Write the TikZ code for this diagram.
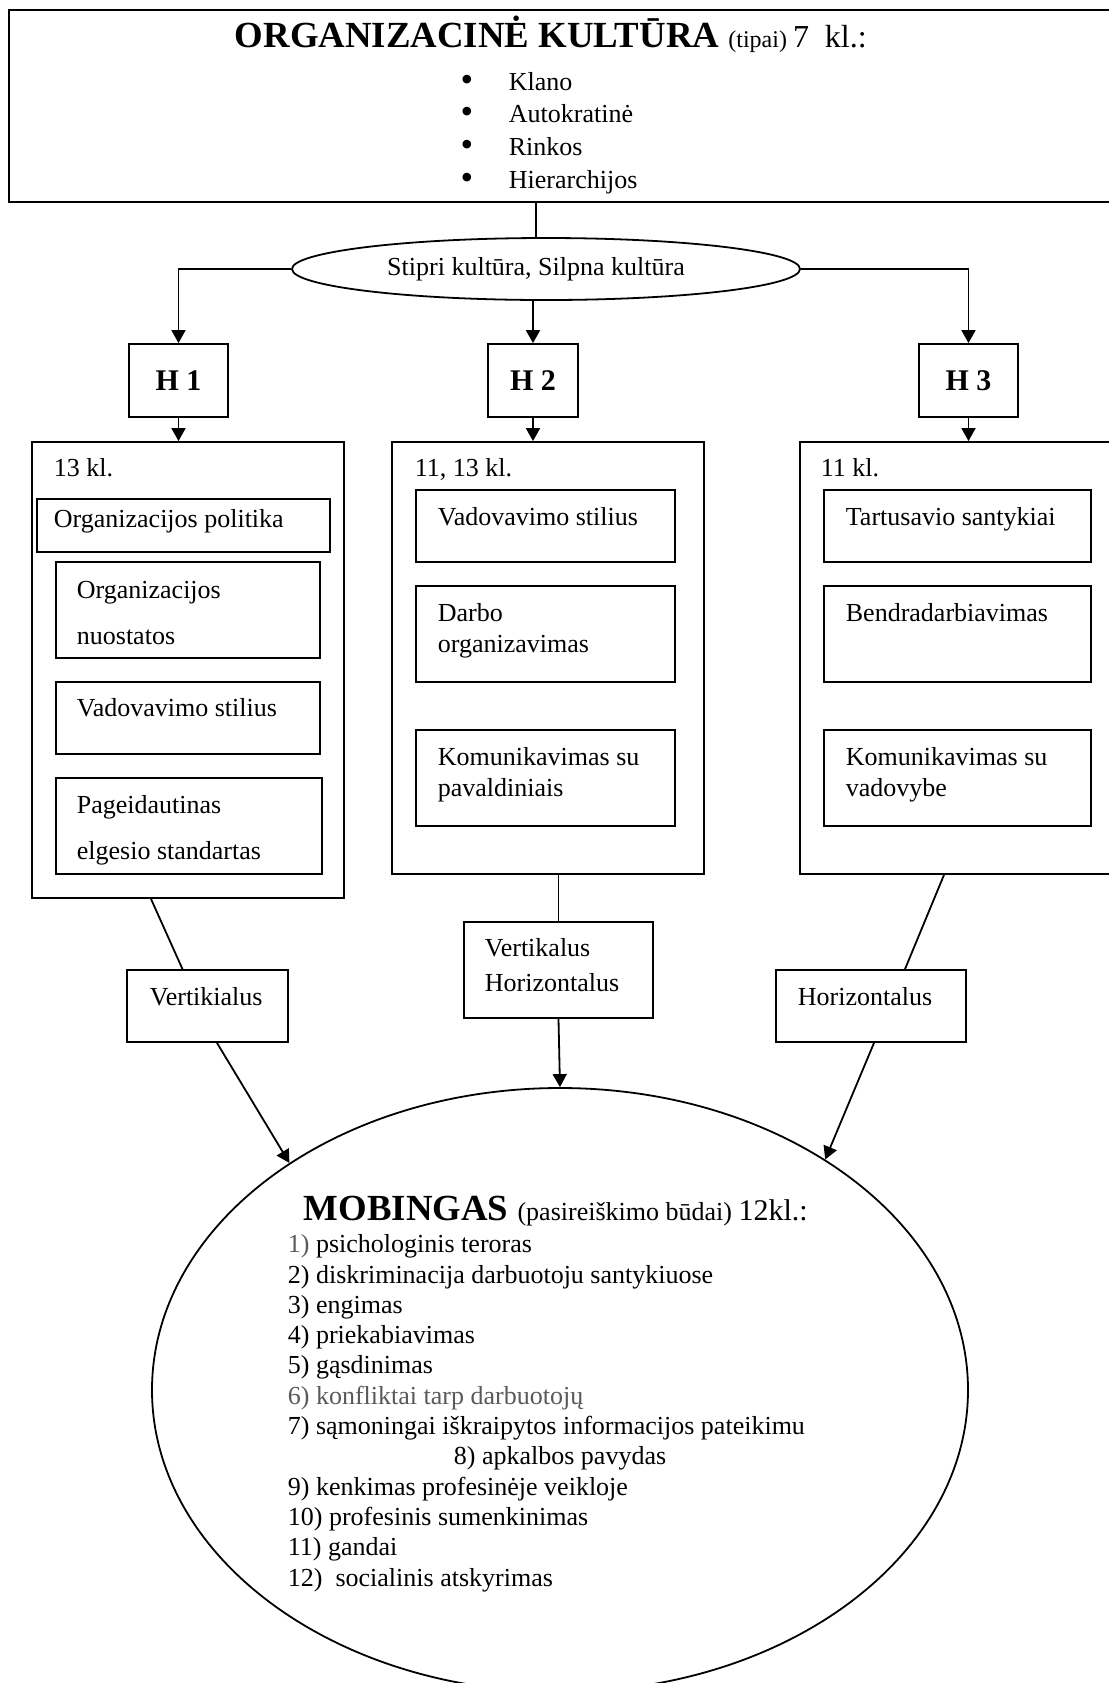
\documentclass[tikz,border=0pt]{standalone}
\usepackage{fontspec}
\setmainfont{Liberation Serif}
\usetikzlibrary{shapes.geometric,arrows.meta}

\begin{document}
\begin{tikzpicture}
	[x=1pt, y=-1pt, line width=0.9pt, >={Triangle[length=6.5pt,width=7pt]},
	box/.style={draw,rectangle,inner sep=0pt},
	oval/.style={draw,ellipse,inner sep=0pt},
	txt/.style={inner sep=0pt,anchor=base west,align=left,font=\fontsize{13pt}{15.5pt}\selectfont},
	wide/.style={txt,font=\fontsize{13pt}{23pt}\selectfont},
	hbox/.style={box,minimum height=36.5pt,font=\bfseries\fontsize{15pt}{18pt}\selectfont}]
	\useasboundingbox (0,0) rectangle (554.5,841.5);
	% top block
	\node [box,minimum width=555.5pt,minimum height=96pt] (top) at (282.25,53) {};
	\node [inner sep=0pt,anchor=base west] (title) at (117,23.5)
		{\fontsize{18.4pt}{22pt}\selectfont\bfseries ORGANIZACINĖ KULTŪRA
		\fontsize{12pt}{14pt}\selectfont\mdseries (tipai) \fontsize{16pt}{18pt}\selectfont 7\ \ kl.:};
	\node [txt,anchor=base,font=\fontsize{18pt}{16.3pt}\selectfont] (dots) at (233.5,94.5) {•\\•\\•\\•};
	\node [txt,font=\fontsize{13pt}{16.3pt}\selectfont] (types) at (254,94) {Klano\\Autokratinė\\Rinkos\\Hierarchijos};
	\node [oval,minimum width=254pt,minimum height=31pt,font=\fontsize{13pt}{15.5pt}\selectfont] (ell) at (273,134.5) {Stipri kultūra, Silpna kultūra\hspace*{10pt}};
	\coordinate (stem) at ([xshift=-5pt]ell.north);
	% hypotheses
	\node [hbox,minimum width=49.5pt] (h1) at (89.25,190.25) {H 1};
	\node [hbox,minimum width=45pt] (h2) at (266.5,190.25) {H 2};
	\node [hbox,minimum width=49.5pt] (h3) at (484.25,190.25) {H 3};
	% groups
	\node [box,minimum width=156pt,minimum height=228pt] (g1) at (94,335) {};
	\node [box,minimum width=156pt,minimum height=216pt] (g2) at (274,329) {};
	\node [box,minimum width=156pt,minimum height=216pt] (g3) at (478,329) {};
	\node [txt] (k1) at (26.5,238) {13 kl.};
	\node [txt] (k2) at (207,238) {11, 13 kl.};
	\node [txt] (k3) at (410,238) {11 kl.};
	% group 1
	\node [box,minimum width=146.5pt,minimum height=26.5pt] (pol) at (91.75,262.75) {};
	\node [box,minimum width=132pt,minimum height=48pt] (nuo) at (94,305) {};
	\node [box,minimum width=132pt,minimum height=36pt] (vad1) at (94,359) {};
	\node [box,minimum width=133pt,minimum height=48pt] (pag) at (94.5,413) {};
	\node [txt] (polt) at (26.5,263.5) {Organizacijos politika};
	\node [wide] (nuot) at (38,322) {Organizacijos\\nuostatos};
	\node [txt] (vad1t) at (38,358) {Vadovavimo stilius};
	\node [wide] (pagt) at (38,429.5) {Pageidautinas\\elgesio standartas};
	% group 2
	\node [box,minimum width=129.5pt,minimum height=36pt] (vad2) at (272.75,263) {};
	\node [box,minimum width=129.5pt,minimum height=48pt] (darb) at (272.75,317) {};
	\node [box,minimum width=129.5pt,minimum height=48pt] (kom2) at (272.75,389) {};
	\node [txt] (vad2t) at (218.5,262.5) {Vadovavimo stilius};
	\node [txt] (darbt) at (218.5,326) {Darbo\\organizavimas};
	\node [txt] (kom2t) at (218.5,398) {Komunikavimas su\\pavaldiniais};
	% group 3
	\node [box,minimum width=133.5pt,minimum height=36pt] (tar) at (478.75,263) {};
	\node [box,minimum width=133.5pt,minimum height=48pt] (ben) at (478.75,317) {};
	\node [box,minimum width=133.5pt,minimum height=48pt] (kom3) at (478.75,389) {};
	\node [txt] (tart) at (422.5,262.5) {Tartusavio santykiai};
	\node [txt] (bent) at (422.5,310.5) {Bendradarbiavimas};
	\node [txt] (kom3t) at (422.5,398) {Komunikavimas su\\vadovybe};
	% directions
	\node [box,minimum width=80.5pt,minimum height=36pt] (vert) at (103.75,503) {};
	\node [box,minimum width=94.5pt,minimum height=48pt] (mid) at (279.25,485) {};
	\node [box,minimum width=95pt,minimum height=36pt] (hor) at (435.5,503) {};
	\node [txt] (vertt) at (74.5,502.5) {Vertikialus};
	\node [txt,font=\fontsize{13pt}{17.5pt}\selectfont] (midt) at (242,495.5) {Vertikalus\\Horizontalus};
	\node [txt] (hort) at (398.5,502.5) {Horizontalus};
	% mobbing
	\node [oval,minimum width=408pt,minimum height=302pt] (mob) at (280,695) {};
	\node [inner sep=0pt,anchor=base west] (mobt) at (151.5,610)
		{\fontsize{18.4pt}{22pt}\selectfont\bfseries MOBINGAS
		\fontsize{13pt}{15pt}\selectfont\mdseries (pasireiškimo būdai) \fontsize{15pt}{18pt}\selectfont 12kl.:};
	\node [txt,font=\fontsize{13pt}{15.15pt}\selectfont] (mobl) at (143.5,793)
		{{\color{black!65}1)} psichologinis teroras\\
		2) diskriminacija darbuotoju santykiuose\\
		3) engimas\\
		4) priekabiavimas\\
		5) gąsdinimas\\
		{\color{black!65}6) konfliktai tarp darbuotojų}\\
		7) sąmoningai iškraipytos informacijos pateikimu\\
		\hspace*{83pt}8) apkalbos pavydas\\
		9) kenkimas profesinėje veikloje\\
		10) profesinis sumenkinimas\\
		11) gandai\\
		12)\ \ socialinis atskyrimas};
	% connectors
	\draw (stem |- top.south) -- (stem);
	\draw[->] (ell.west) -| (h1.north);
	\draw[->] (h2.north |- ell.south) -- (h2.north);
	\draw[->] (ell.east) -| (h3.north);
	\draw[->] (h1.south) -- (h1.south |- g1.north);
	\draw[->] (h2.south) -- (h2.south |- g2.north);
	\draw[->] (h3.south) -- (h3.south |- g3.north);
	\draw ([xshift=-18.5pt]g1.south) -- ([xshift=-12.5pt]vert.north);
	\draw (mid.north |- g2.south) -- (mid.north);
	\draw ([xshift=-6pt]g3.south) -- ([xshift=17pt]hor.north);
	\draw[->] ([xshift=4.75pt]vert.south) -- (mob.140);
	\draw[->] (mid.south) -- (mob.north);
	\draw[->] ([xshift=1.5pt]hor.south) -- (mob.41);
\end{tikzpicture}
\end{document}
